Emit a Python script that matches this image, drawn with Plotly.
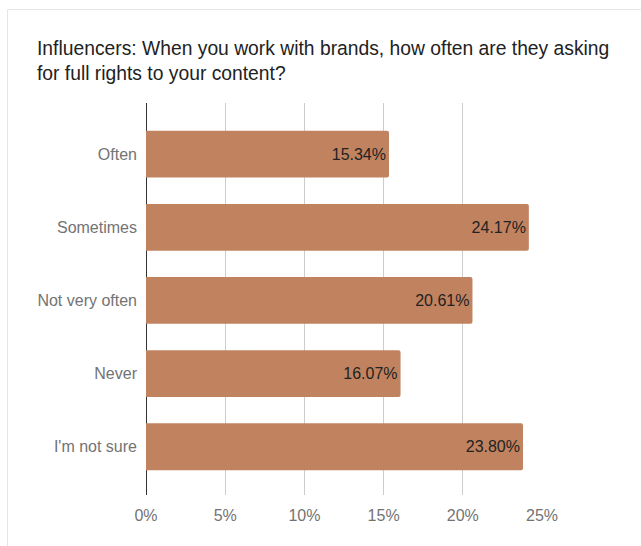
import plotly.graph_objects as go

# Survey responses (share of influencers)
categories = ["Often", "Sometimes", "Not very often", "Never", "I'm not sure"]
shares = [15.34, 24.17, 20.61, 16.07, 23.80]
tick_vals = [0, 5, 10, 15, 20, 25]
tick_text = ["0%", "5%", "10%", "15%", "20%", "25%"]

W, H = 641, 546
ML, MR, MT, MB = 146, 99, 103, 51
plot_w = W - ML - MR
plot_h = H - MT - MB

FONT = "Arial, Liberation Sans, sans-serif"
BAR = "#C1835F"


def px_x(px):
    return (px - ML) / plot_w


def px_y(py):
    return (H - MB - py) / plot_h


fig = go.Figure(
    go.Bar(
        x=shares,
        y=categories,
        orientation="h",
        marker=dict(color=BAR, line=dict(width=0), cornerradius=2),
        width=0.64,
        text=[f"{v:.2f}%" for v in shares],
        textposition="inside",
        insidetextanchor="end",
        textfont=dict(family=FONT, size=16, color="#222222"),
        cliponaxis=False,
        hoverinfo="skip",
    )
)

fig.update_layout(
    width=W,
    height=H,
    margin=dict(l=ML, r=MR, t=MT, b=MB),
    paper_bgcolor="white",
    plot_bgcolor="white",
    showlegend=False,
    font=dict(family=FONT),
    uniformtext=dict(minsize=16, mode="show"),
    xaxis=dict(
        range=[0, 25],
        tickvals=tick_vals,
        ticktext=tick_text,
        showgrid=True,
        gridcolor="#CCCCCC",
        gridwidth=1,
        zeroline=True,
        zerolinecolor="#333333",
        zerolinewidth=1,
        showline=False,
        ticks="",
        ticklabelstandoff=9,
        tickfont=dict(family=FONT, size=16, color="#737373"),
        fixedrange=True,
    ),
    yaxis=dict(
        type="category",
        categoryorder="array",
        categoryarray=categories,
        range=[4.66, -0.7],
        showgrid=False,
        zeroline=False,
        showline=False,
        ticks="",
        ticklabelstandoff=8,
        tickfont=dict(family=FONT, size=16, color="#737373"),
        fixedrange=True,
    ),
    annotations=[
        dict(
            text="Influencers: When you work with brands, how often are they asking<br>for full rights to your content?",
            xref="paper",
            yref="paper",
            x=px_x(35),
            y=px_y(36),
            xanchor="left",
            yanchor="top",
            align="left",
            showarrow=False,
            font=dict(family=FONT, size=19.3, color="#222222"),
        )
    ],
    shapes=[
        # thin frame around the chart card
        dict(
            type="rect",
            xref="paper",
            yref="paper",
            x0=px_x(7.5),
            x1=px_x(700),
            y0=px_y(600),
            y1=px_y(9.5),
            line=dict(color="#E6E6E6", width=1),
            fillcolor="rgba(0,0,0,0)",
            layer="below",
        )
    ],
)

fig.write_html("out.html")
